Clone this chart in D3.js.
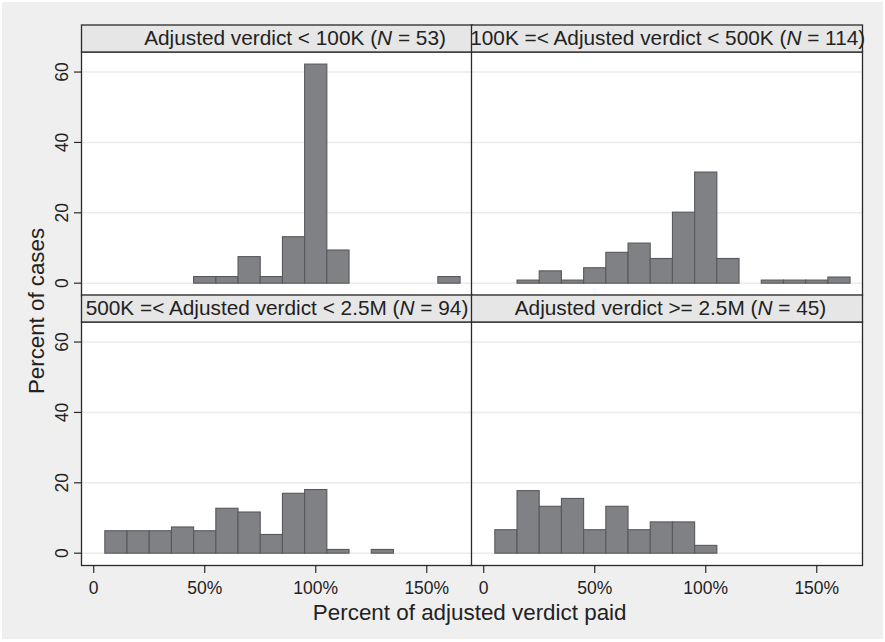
<!DOCTYPE html>
<html><head><meta charset="utf-8">
<script src="https://cdn.jsdelivr.net/npm/d3@7"></script>
<style>html,body{margin:0;padding:0;background:#fff;} text{font-family:"Liberation Sans",Arial,Helvetica,sans-serif;fill:#222;}</style>
</head><body><svg id="c" width="885" height="642"></svg>
<script>
// ---- data ----
const binStarts = [5,15,25,35,45,55,65,75,85,95,105,115,125,135,145,155];
const binWidth = 10;
const panelTitles = [
  ["Adjusted verdict < 100K (", "N", " = 53)"],
  ["100K =< Adjusted verdict < 500K (", "N", " = 114)"],
  ["500K =< Adjusted verdict < 2.5M (", "N", " = 94)"],
  ["Adjusted verdict >= 2.5M (", "N", " = 45)"]
];
const pctUnder100K   = [0,0,0,0,1.89,1.89,7.55,1.89,13.21,62.26,9.43,0,0,0,0,1.89];
const pct100Kto500K  = [0,0.88,3.51,0.88,4.39,8.77,11.40,7.02,20.18,31.58,7.02,0,0.88,0.88,0.88,1.75];
const pct500Kto2_5M  = [6.38,6.38,6.38,7.45,6.38,12.77,11.70,5.32,17.02,18.09,1.06,0,1.06,0,0,0];
const pctOver2_5M    = [6.67,17.78,13.33,15.56,6.67,13.33,6.67,8.89,8.89,2.22,0,0,0,0,0,0];
const yTicks = [0,20,40,60];
const xTicks = [0,50,100,150];
const xTickLabels = ["0","50%","100%","150%"];
const yTitle = "Percent of cases";
const xTitle = "Percent of adjusted verdict paid";

const series = [pctUnder100K, pct100Kto500K, pct500Kto2_5M, pctOver2_5M];

// ---- layout ----
const svg = d3.select("#c");
svg.append("rect").attr("x",2).attr("y",2).attr("width",881).attr("height",637).attr("fill","#efefef");

const colX = [81.5, 471.5], colW = 391;
const rowY = [25, 295], headH = 27, plotH = 243.5;
const titleDx = [18, 0.7, 0, 3.5];

const x = d3.scaleLinear().domain([-5.5, 170.6]).range([0, colW]);
const y = d3.scaleLinear().domain([-3.5, 65.7]).range([plotH, 0]);

series.forEach((vals, i) => {
  const col = i % 2, row = Math.floor(i / 2);
  const gx = colX[col], hy = rowY[row], py = hy + headH;
  const g = svg.append("g").attr("transform", `translate(${gx},${py})`);
  // plot background
  g.append("rect").attr("width", colW).attr("height", plotH).attr("fill", "#fff");
  // gridlines
  g.selectAll("line.grid").data(yTicks).join("line")
    .attr("x1", 0).attr("x2", colW)
    .attr("y1", d => y(d)).attr("y2", d => y(d))
    .attr("stroke", "#ebebeb").attr("stroke-width", 1.5);
  // bars
  const data = binStarts.map((b, k) => ({b, v: vals[k]})).filter(d => d.v > 0);
  g.selectAll("rect.bar").data(data).join("rect")
    .attr("x", d => x(d.b)).attr("width", d => x(d.b + binWidth) - x(d.b))
    .attr("y", d => y(d.v)).attr("height", d => y(0) - y(d.v))
    .attr("fill", "#808185").attr("stroke", "#58595c").attr("stroke-width", 1.1);
  // plot border
  g.append("rect").attr("width", colW).attr("height", plotH)
    .attr("fill", "none").attr("stroke", "#2a2a2a").attr("stroke-width", 1.3);
  // header
  const h = svg.append("g").attr("transform", `translate(${gx},${hy})`);
  h.append("rect").attr("width", colW).attr("height", headH)
    .attr("fill", "#e6e6e6").attr("stroke", "#2a2a2a").attr("stroke-width", 1.3);
  const t = h.append("text").attr("x", colW / 2 + titleDx[i]).attr("y", 19.6)
    .attr("text-anchor", "middle").style("font-size", "20.8px");
  t.append("tspan").text(panelTitles[i][0]);
  t.append("tspan").style("font-style", "italic").text(panelTitles[i][1]);
  t.append("tspan").text(panelTitles[i][2]);

  // y axis on left column
  if (col === 0) {
    const ya = g.append("g");
    ya.selectAll("line").data(yTicks).join("line")
      .attr("x1", -7.5).attr("x2", 0).attr("y1", d => y(d)).attr("y2", d => y(d))
      .attr("stroke", "#2a2a2a").attr("stroke-width", 1.2);
    ya.selectAll("text").data(yTicks).join("text")
      .attr("transform", d => `translate(${68.3 - gx},${y(d)}) rotate(-90)`)
      .attr("text-anchor", "middle").style("font-size", "17.5px").text(d => d);
  }
  // x axis on bottom row
  if (row === 1) {
    const xa = g.append("g").attr("transform", `translate(0,${plotH})`);
    xa.selectAll("line").data(xTicks).join("line")
      .attr("x1", d => x(d)).attr("x2", d => x(d)).attr("y1", 0).attr("y2", 7.5)
      .attr("stroke", "#2a2a2a").attr("stroke-width", 1.2);
    xa.selectAll("text").data(xTicks).join("text")
      .attr("x", d => x(d)).attr("y", 594.3 - (py + plotH))
      .attr("text-anchor", "middle").style("font-size", "17.5px")
      .text((d, k) => xTickLabels[k]);
  }
});

// axis titles
svg.append("text").attr("transform", "translate(44,311) rotate(-90)")
  .attr("text-anchor", "middle").style("font-size", "22.3px").text(yTitle);
svg.append("text").attr("x", 469.7).attr("y", 620)
  .attr("text-anchor", "middle").style("font-size", "22.4px").text(xTitle);
</script></body></html>
